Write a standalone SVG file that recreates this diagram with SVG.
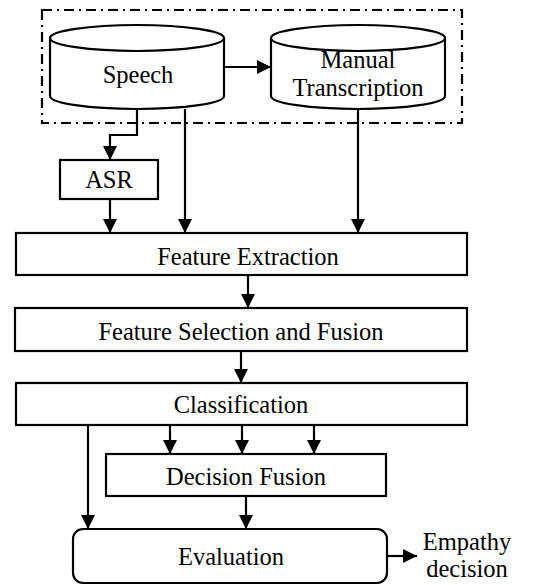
<svg xmlns="http://www.w3.org/2000/svg" width="537" height="585" viewBox="0 0 537 585">
<style>
.s{fill:#fff;stroke:#000;stroke-width:2.2}
.t{font-family:"Liberation Serif","Times New Roman",serif;font-size:24.5px;fill:#000;text-anchor:middle}
.c{fill:none;stroke:#000;stroke-width:2.2}
</style>
<defs>
<marker id="a" markerWidth="14" markerHeight="14" refX="14" refY="7" orient="auto" markerUnits="userSpaceOnUse">
<path d="M0,0 L14,7 L0,14 Z" fill="#000"/>
</marker>
</defs>
<rect x="42" y="10" width="420" height="113" fill="none" stroke="#000" stroke-width="2.2" stroke-dasharray="10,5,2,5"/>
<g id="speech">
<path class="s" d="M50,38 L50,96 A87,13 0 0 0 224,96 L224,38"/>
<ellipse class="s" cx="137" cy="38" rx="87" ry="13"/>
<text class="t" x="138" y="83">Speech</text>
</g>
<g id="manual">
<path class="s" d="M271,38 L271,96 A87,13 0 0 0 445,96 L445,38"/>
<ellipse class="s" cx="358" cy="38" rx="87" ry="13"/>
<text class="t" x="358" y="68">Manual</text>
<text class="t" x="358" y="96">Transcription</text>
</g>
<g id="asr">
<rect class="s" x="60" y="160" width="98" height="39"/>
<text class="t" x="109" y="188">ASR</text>
</g>
<g id="fe">
<rect class="s" x="16" y="233" width="451" height="42"/>
<text class="t" x="248" y="265">Feature Extraction</text>
</g>
<g id="fsf">
<rect class="s" x="15" y="308" width="452" height="43"/>
<text class="t" x="241" y="340">Feature Selection and Fusion</text>
</g>
<g id="cls">
<rect class="s" x="16" y="383" width="451" height="42"/>
<text class="t" x="241" y="413">Classification</text>
</g>
<g id="df">
<rect class="s" x="106" y="454" width="280" height="42"/>
<text class="t" x="246" y="485">Decision Fusion</text>
</g>
<g id="eval">
<rect class="s" x="73" y="529" width="314" height="54" rx="10"/>
<text class="t" x="231" y="565">Evaluation</text>
</g>
<g id="out">
<text class="t" x="467" y="550">Empathy</text>
<text class="t" x="467" y="577">decision</text>
</g>
<g id="connectors">
<path class="c" d="M224,67 L271,67" marker-end="url(#a)"/>
<path class="c" d="M137,109 L137,135 L110,135 L110,160" marker-end="url(#a)"/>
<path class="c" d="M110,199 L110,233" marker-end="url(#a)"/>
<path class="c" d="M185,109 L185,233" marker-end="url(#a)"/>
<path class="c" d="M358,109 L358,233" marker-end="url(#a)"/>
<path class="c" d="M248,275 L248,308" marker-end="url(#a)"/>
<path class="c" d="M241,351 L241,383" marker-end="url(#a)"/>
<path class="c" d="M170,425 L170,454" marker-end="url(#a)"/>
<path class="c" d="M242,425 L242,454" marker-end="url(#a)"/>
<path class="c" d="M314,425 L314,454" marker-end="url(#a)"/>
<path class="c" d="M88,425 L88,529" marker-end="url(#a)"/>
<path class="c" d="M246,496 L246,529" marker-end="url(#a)"/>
<path class="c" d="M387,556 L417,556" marker-end="url(#a)"/>
</g>
</svg>
